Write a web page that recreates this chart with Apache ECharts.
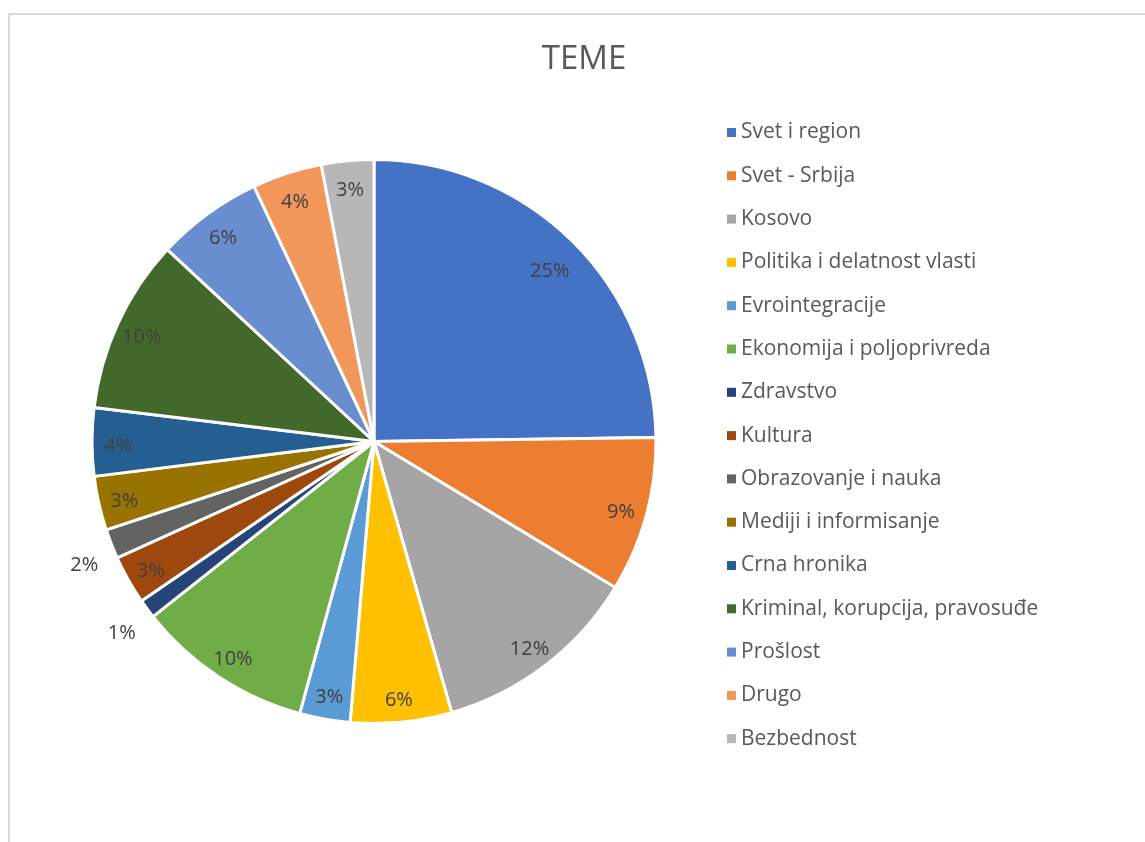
<!DOCTYPE html>
<html>
<head>
<meta charset="utf-8">
<title>TEME</title>
<script src="https://cdn.jsdelivr.net/npm/echarts@6/dist/echarts.min.js"></script>
<style>
  html, body { margin: 0; padding: 0; background: #fff; overflow: hidden; }
  #frame {
    position: absolute; left: 8px; top: 13px; width: 1200px; height: 900px;
    border-top: 2px solid #d9d9d9; border-left: 2px solid #d9d9d9;
  }
  #chart { position: absolute; left: 0; top: 0; width: 1145px; height: 842px; }
</style>
</head>
<body>
<div id="frame"></div>
<div id="chart"></div>
<script>
// teme (kategorije) i udeo u procentima
const categories = [
  "Svet i region",
  "Svet - Srbija",
  "Kosovo",
  "Politika i delatnost vlasti",
  "Evrointegracije",
  "Ekonomija i poljoprivreda",
  "Zdravstvo",
  "Kultura",
  "Obrazovanje i nauka",
  "Mediji i informisanje",
  "Crna hronika",
  "Kriminal, korupcija, pravosuđe",
  "Prošlost",
  "Drugo",
  "Bezbednost"
];
const values = [24.8, 8.9, 11.9, 5.8, 2.9, 10.1, 1.1, 2.8, 1.7, 3.1, 3.9, 10.0, 6.1, 4.0, 3.0];

// Excel paleta
const colorList = [
  "#4472C4", "#ED7D31", "#A5A5A5", "#FFC000", "#5B9BD5",
  "#70AD47", "#264478", "#9E480E", "#636363", "#997300",
  "#255E91", "#43682B", "#698ED0", "#F1975A", "#B7B7B7"
];
// male kriske sa oznakom izvan pite
const outsideLabels = ["Zdravstvo", "Obrazovanje i nauka"];

const FONT = "'Open Sans', 'Noto Sans', sans-serif";
const CENTER = [374, 441.5];
const R = 282;

var myChart = echarts.init(document.getElementById("chart"));

var pctFmt = function (p) { return Math.round(p.percent) + "%"; };

var mainData = categories.map(function (name, i) {
  var item = { name: name, value: values[i] };
  if (outsideLabels.indexOf(name) >= 0) {
    item.label = { show: true };
  }
  return item;
});

var labelData = categories.map(function (name, i) {
  var item = { name: name, value: values[i] };
  if (outsideLabels.indexOf(name) >= 0) {
    item.label = { show: false };
  }
  return item;
});

var option = {
  color: colorList,
  animation: false,
  title: {
    text: "TEME",
    left: 579,
    top: 38,
    textAlign: "center",
    textStyle: { color: "#595959", fontFamily: FONT, fontWeight: "normal", fontSize: 33 }
  },
  legend: {
    orient: "vertical",
    left: 727,
    top: 122,
    padding: 0,
    icon: "rect",
    itemWidth: 9,
    itemHeight: 9,
    itemGap: 22.3,
    itemStyle: { borderWidth: 0 },
    textStyle: { color: "#595959", fontFamily: FONT, fontSize: 21, lineHeight: 20 },
    data: categories
  },
  series: [
    {
      type: "pie",
      center: CENTER,
      radius: [0, R],
      startAngle: 90,
      clockwise: true,
      avoidLabelOverlap: false,
      itemStyle: { borderColor: "#fff", borderWidth: 3 },
      label: {
        show: false,
        position: "outside",
        formatter: pctFmt,
        color: "#404040",
        fontFamily: FONT,
        fontSize: 20
      },
      labelLine: { show: false, length: 14, length2: 4 },
      labelLayout: function () { return { dx: 9, dy: 16 }; },
      emphasis: { disabled: true },
      data: mainData
    },
    {
      // prozirni prsten samo za oznake unutar kriski
      type: "pie",
      center: CENTER,
      radius: [224, R],
      startAngle: 90,
      clockwise: true,
      silent: true,
      avoidLabelOverlap: false,
      itemStyle: { color: "rgba(0,0,0,0)", borderWidth: 0 },
      label: {
        show: true,
        position: "inside",
        formatter: pctFmt,
        color: "#404040",
        fontFamily: FONT,
        fontSize: 20
      },
      labelLine: { show: false },
      labelLayout: function (p) {
        // Excel malo uvlaci oznaku najvece kriske
        return p.dataIndex === 0 ? { dx: -4, dy: 12 } : { dy: 4 };
      },
      emphasis: { disabled: true },
      data: labelData
    }
  ]
};

myChart.setOption(option);
</script>
</body>
</html>
